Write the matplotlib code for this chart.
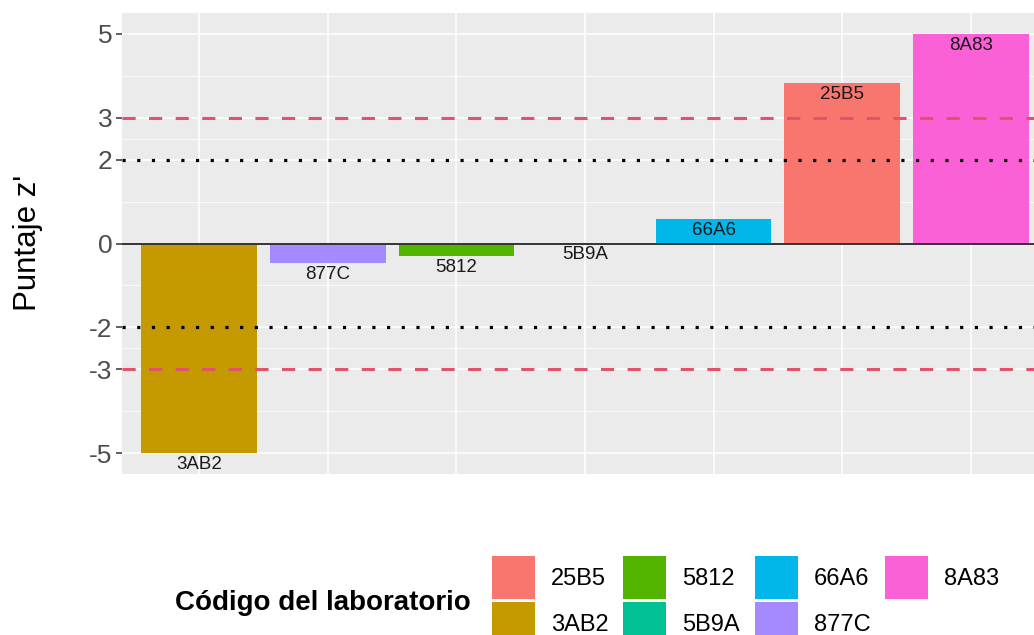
import matplotlib
matplotlib.use("Agg")
import matplotlib.pyplot as plt
import matplotlib.patches as mpatches
import numpy as np

plt.rcParams['font.family'] = ['Liberation Sans', 'DejaVu Sans']

# --- Data ---
labs = ["3AB2", "877C", "5812", "5B9A", "66A6", "25B5", "8A83"]
zscores = [-5.0, -0.47, -0.31, 0.0, 0.59, 3.82, 5.0]

# legend order (alphabetical, like ggplot)
legend_labs = ["25B5", "3AB2", "5812", "5B9A", "66A6", "877C", "8A83"]
legend_cols = ["#F8766D", "#C49A00", "#53B400", "#00C094", "#00B6EB", "#A58AFF", "#FB61D7"]
col_map = dict(zip(legend_labs, legend_cols))

y_breaks = [-5, -3, -2, 0, 2, 3, 5]
y_minor = [-4, -2.5, -1, 1, 2.5, 4]

W, H = 1034, 635
fig = plt.figure(figsize=(W / 100, H / 100), dpi=100)
# panel runs past the right border (the reference is cropped there)
ax = fig.add_axes([122 / W, 1 - 474 / H, (1048 - 122) / W, (474 - 13) / H])
ax.set_facecolor("#EBEBEB")

x = np.arange(len(labs))
ax.set_xlim(-0.6, len(labs) - 0.4)
ax.set_ylim(-5.5, 5.5)

# grid
ax.set_yticks(y_breaks)
ax.set_yticks(y_minor, minor=True)
ax.set_xticks(x)
ax.grid(which="major", color="white", linewidth=1.1)
ax.grid(which="minor", axis="y", color="white", linewidth=0.55)
ax.set_axisbelow(True)
for s in ax.spines.values():
    s.set_visible(False)

ax.bar(x, zscores, width=0.9, color=[col_map[l] for l in labs], zorder=2)

# reference lines
ax.axhline(0, color="#333333", linewidth=1.4, zorder=3)
for v in (2, -2):
    ax.axhline(v, color="black", linewidth=2.3, linestyle=(0, (1, 3.6)), zorder=3)
for v in (3, -3):
    ax.axhline(v, color="#DF536B", linewidth=2.2, linestyle=(0, (4.3, 4.4)), zorder=3)

# bar labels just below the value
for xi, v, l in zip(x, zscores, labs):
    ax.annotate(l, (xi, v), xytext=(0, -2), textcoords="offset points",
                ha="center", va="top", fontsize=13.5, color="#1a1a1a", zorder=4)

ax.tick_params(axis="x", length=0, labelbottom=False)
ax.tick_params(axis="y", which="major", length=4, width=1.1, color="#333333",
               labelsize=19, labelcolor="#4D4D4D", pad=3)
ax.tick_params(axis="y", which="minor", length=0)
ax.set_yticklabels([str(b) for b in y_breaks])

fig.text(28 / W, 1 - 243 / H, "Puntaje z'", rotation=90, fontsize=22.5,
         ha="center", va="center")

# legend
handles = [mpatches.Patch(facecolor=c, edgecolor="none", label=l)
           for l, c in zip(legend_labs, legend_cols)]
fs = 17
leg = fig.legend(handles=handles, ncol=4, loc="upper left",
                 bbox_to_anchor=(492 / W, 1 - 556 / H), frameon=False,
                 fontsize=fs, handlelength=1.82, handleheight=2.42,
                 labelspacing=0.13, handletextpad=0.68, columnspacing=0.62,
                 borderpad=0, borderaxespad=0)
fig.text(175 / W, 1 - 603 / H, "Código del laboratorio", fontsize=20,
         fontweight="bold", ha="left", va="center")

fig.savefig("out.png", dpi=100)
